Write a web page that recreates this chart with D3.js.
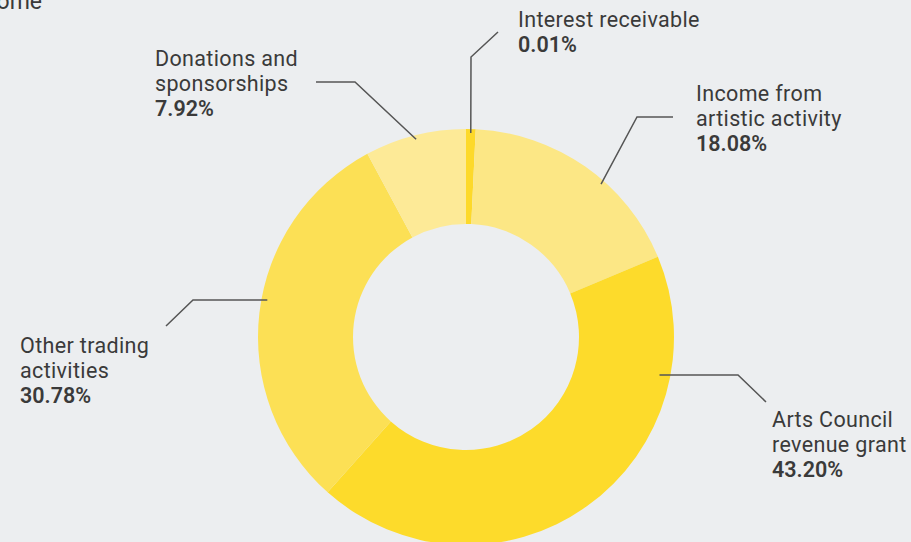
<!DOCTYPE html>
<html>
<head>
<meta charset="utf-8">
<script src="https://cdn.jsdelivr.net/npm/d3@7"></script>
<style>
  html, body { margin: 0; padding: 0; background: #eceef0; }
  svg { display: block; }
  text { font-family: Roboto, "Liberation Sans", sans-serif; fill: #3a3a3a; }
</style>
</head>
<body>
<svg id="chart" width="911" height="542"></svg>
<script>
// ---- data ----
const categories = ["Interest receivable", "Income from artistic activity", "Arts Council revenue grant", "Other trading activities", "Donations and sponsorships"];
const labelLines = [["Interest receivable"], ["Income from", "artistic activity"], ["Arts Council", "revenue grant"], ["Other trading", "activities"], ["Donations and", "sponsorships"]];
const values = [0.01, 18.08, 43.20, 30.78, 7.92];
const valueLabels = ["0.01%", "18.08%", "43.20%", "30.78%", "7.92%"];
const title = "Income";

// ---- styles / layout ----
const colors = ["#fdd92a", "#fce785", "#fddb2b", "#fce055", "#fdea97"];
const minShare = 0.75; // tiny slices drawn with a minimum visible share
const cx = 466, cy = 337, outerR = 208, innerR = 113;

const svg = d3.select("#chart");
svg.append("text").attr("x", 42).attr("y", 9).attr("text-anchor", "end")
  .style("font-size", "23px").text(title);

const data = categories.map((c, i) => ({ name: c, value: values[i], lines: labelLines[i], pct: valueLabels[i], color: colors[i] }));

const pie = d3.pie().sort(null).value(d => Math.max(d.value, minShare));
const arcs = pie(data);
const arc = d3.arc().innerRadius(innerR).outerRadius(outerR);

const g = svg.append("g").attr("transform", `translate(${cx},${cy})`);
g.selectAll("path").data(arcs).join("path")
  .attr("d", arc).attr("fill", d => d.data.color);

const leaders = [
  { frac: 0.5, r: outerR - 4, elbow: [471, 57], end: [498, 32], label: [518, 27] },
  { frac: 0.6, r: outerR - 4, elbow: [637, 117], end: [673, 117], label: [696, 101] },
  { frac: 0.05, r: outerR - 6, elbow: [738, 375], end: [766, 402], label: [772, 427] },
  { frac: 0.68, r: outerR - 5, elbow: [193, 300], end: [166, 326], label: [20, 353] },
  { frac: 0.5, r: outerR - 4, elbow: [355, 82], end: [316, 82], label: [155, 66] }
];

const lineH = 24.8;
arcs.forEach((a, i) => {
  const L = leaders[i];
  let ang = a.startAngle + (a.endAngle - a.startAngle) * L.frac;
  let sx, sy;
  if (i === 2) {
    sy = L.elbow[1];
    sx = cx + Math.sqrt(outerR * outerR - (sy - cy) * (sy - cy)) - 11;
  } else if (i === 3) {
    sy = L.elbow[1];
    sx = cx - Math.sqrt(outerR * outerR - (sy - cy) * (sy - cy)) + 6;
  } else {
    sx = cx + L.r * Math.sin(ang);
    sy = cy - L.r * Math.cos(ang);
  }
  svg.append("polyline")
    .attr("points", [[sx, sy], L.elbow, L.end].map(p => p.join(",")).join(" "))
    .attr("fill", "none").attr("stroke", "#555").attr("stroke-width", 1.5);

  const t = svg.append("text").attr("x", L.label[0]).attr("y", L.label[1]).style("font-size", "21.5px");
  a.data.lines.forEach((ln, j) => {
    t.append("tspan").attr("x", L.label[0]).attr("y", L.label[1] + j * lineH)
      .style("letter-spacing", "0.35px").text(ln);
  });
  t.append("tspan").attr("x", L.label[0]).attr("y", L.label[1] + a.data.lines.length * lineH)
    .style("font-weight", "600").text(a.data.pct);
});
</script>
</body>
</html>
